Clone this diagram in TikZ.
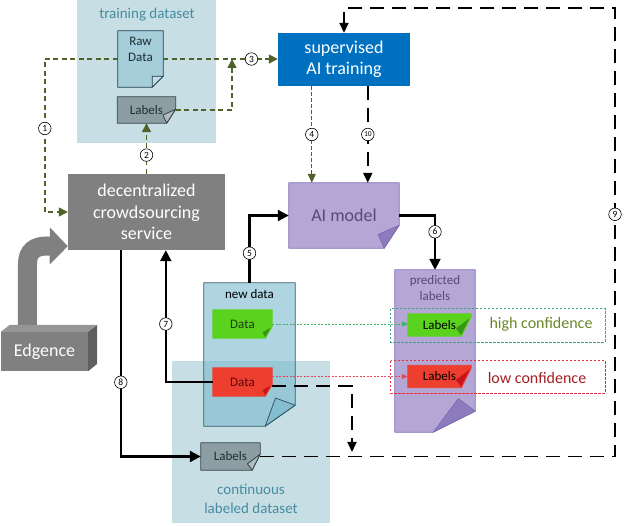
\documentclass[tikz,border=0pt]{standalone}
\usepackage{fontspec}
\setmainfont{Carlito}
\usetikzlibrary{positioning, arrows.meta, calc}
\newcommand{\fsz}[2]{\fontsize{#1}{#2}\selectfont}
\definecolor{panelblue}{RGB}{200,222,229}
\definecolor{panelteal}{RGB}{70,140,160}
\definecolor{rawblue}{RGB}{165,205,218}
\definecolor{rawedge}{RGB}{35,60,75}
\definecolor{labgray}{RGB}{140,158,164}
\definecolor{labedge}{RGB}{50,65,70}
\definecolor{labtext}{RGB}{30,45,50}
\definecolor{supblue}{RGB}{0,112,192}
\definecolor{srvgray}{RGB}{128,128,128}
\definecolor{lilac}{RGB}{180,167,214}
\definecolor{lilacedge}{RGB}{128,110,180}
\definecolor{lilactext}{RGB}{85,75,115}
\definecolor{newblue}{RGB}{120,185,205}
\definecolor{newedge}{RGB}{50,90,105}
\definecolor{okgreen}{RGB}{90,210,30}
\definecolor{okgreendk}{RGB}{55,150,20}
\definecolor{okgreentext}{RGB}{30,60,20}
\definecolor{badred}{RGB}{238,62,48}
\definecolor{badreddk}{RGB}{200,20,25}
\definecolor{badredtext}{RGB}{90,10,10}
\definecolor{flowgreen}{RGB}{79,98,40}
\definecolor{hiedge}{RGB}{60,165,125}
\definecolor{hitext}{RGB}{105,135,40}
\definecolor{loedge}{RGB}{220,50,70}
\definecolor{lotext}{RGB}{165,30,35}
\definecolor{dotgreen}{RGB}{60,180,100}
\definecolor{dotred}{RGB}{230,70,90}
\definecolor{edgetop}{RGB}{150,150,150}
\definecolor{edgeside}{RGB}{95,95,95}
\pgfdeclarelayer{back}
\pgfdeclarelayer{pages}
\pgfsetlayers{back,pages,main}
% page with folded corner: [extra]{node}{fold x}{fold y}{fill}{edge}{fold fill}
\newcommand{\docpage}[7][]{%
  \coordinate (#2-fa) at ([yshift=#4]#2.south east);
  \coordinate (#2-fb) at ([xshift=-#3]#2.south east);
  \coordinate (#2-fp) at ($(#2-fa)!(#2.south east)!(#2-fb)$);
  \coordinate (#2-fc) at ($(#2.south east)!2!(#2-fp)$);
  \filldraw[line width=0.8pt, line join=round, fill=#5, draw=#6, #1] (#2.north west) -- (#2.north east) -- (#2-fa) -- (#2-fb) -- (#2.south west) -- cycle;
  \filldraw[line width=0.8pt, line join=round, fill=#7, draw=#6, #1] (#2-fa) -- (#2-fb) -- (#2-fc) -- cycle;
}
\tikzset{
    panel/.style={fill=panelblue, draw=none, inner sep=0pt}, % light dataset areas
    panelhead/.style={text=panelteal, font=\fsz{15}{19}, align=center},
    page/.style={inner sep=0pt, font=\fsz{13}{16}, align=center},
    pagehead/.style={inner sep=1pt, font=\fsz{13}{16}, align=center},
    bigbox/.style={inner sep=0pt, text=white, font=\fsz{18}{21.5}, align=center},
    num/.style={circle, solid, draw=black, fill=white, text=black, line width=0.6pt, inner sep=0pt, minimum size=12.5pt, font=\fsz{9.5}{9.5}},
    greenflow/.style={draw=flowgreen, line width=1.4pt, dash pattern=on 5pt off 3.5pt, -{Triangle[length=9pt, width=9pt]}},
    greenthin/.style={draw=flowgreen, line width=1pt, dash pattern=on 3.5pt off 2.5pt, -{Triangle[length=9pt, width=8pt]}},
    blackflow/.style={draw=black, line width=2.2pt, -{Triangle[length=11pt, width=11pt]}},
    blackdash/.style={draw=black, line width=1.8pt, dash pattern=on 14pt off 8pt, -{Triangle[length=10pt, width=9pt]}},
    dotflow/.style={line width=0.8pt, dash pattern=on 2pt off 1.5pt, -{Triangle[length=6pt, width=5pt]}},
    confbox/.style={minimum width=214pt, inner sep=0pt},
    confline/.style={draw=#1, line width=0.8pt, dash pattern=on 2.5pt off 1.5pt},
    bigarrow/.style={draw=srvgray, line width=19pt, -{Triangle[length=18pt, width=36pt]}},
}
\begin{document}
\begin{tikzpicture}[x=1pt, y=-1pt]
    \useasboundingbox (0,0) rectangle (627,526);

    % dataset areas
    \begin{pgfonlayer}{back}
    \node[panel, minimum width=139pt, minimum height=143pt] (trainset) at (146.5,71.5) {};
    \node[panel, minimum width=158pt, minimum height=162pt] (contset) at (251,442) {};
    \end{pgfonlayer}
    \node[panelhead] (traintitle) at (147,15) {training dataset};
    \node[panelhead] (conttitle) at (251,498.5) {continuous\\labeled dataset};

    % boxes
    \node[page, minimum width=45pt, minimum height=56pt] (raw) at (140.5,59) {};
    \node[pagehead, text=labtext, below=5pt of raw.north] (rawtext) {Raw\\Data};
    \node[page, text=labtext, minimum width=58pt, minimum height=26pt] (labA) at (146.5,110) {Labels};
    \node[bigbox, fill=supblue, minimum width=132pt, minimum height=53pt] (sup) at (344,59.5) {supervised\\AI training};
    \node[bigbox, fill=srvgray, minimum width=157pt, minimum height=76pt] (srv) at (146.5,212) {decentralized\\crowdsourcing\\service};
    \node[bigbox, text=lilactext, minimum width=110pt, minimum height=65pt] (model) at (344,215.5) {AI model};
    \node[page, minimum width=91pt, minimum height=143pt] (nd) at (249.5,354.5) {};
    \node[pagehead, text=black, below=5pt of nd.north] (ndtitle) {new data};
    \node[page, text=okgreentext, minimum width=59pt, minimum height=28pt] (dgreen) at (242.5,324) {Data};
    \node[page, text=badredtext, minimum width=59pt, minimum height=28pt] (dred) at (242.5,382) {Data};
    \node[page, text=labtext, minimum width=59pt, minimum height=27pt] (labB) at (230.5,456.5) {Labels};
    \node[page, minimum width=80pt, minimum height=162pt] (pred) at (435,351) {};
    \node[pagehead, text=lilactext, below=4pt of pred.north] (predtitle) {predicted\\labels};
    \node[page, text=black, minimum width=63pt, minimum height=22pt] (lgreen) at (439.5,325) {Labels};
    \node[page, text=black, minimum width=63pt, minimum height=22pt] (lred) at (439.5,376.5) {Labels};

    \begin{pgfonlayer}{pages}
    \docpage{raw}{11pt}{11pt}{rawblue}{rawedge}{rawblue!70!white}
    \docpage{labA}{9pt}{14pt}{labgray}{labedge}{labgray!70!white}
    \docpage{model}{15pt}{23pt}{lilac}{lilacedge}{lilacedge!75!lilac}
    \docpage[fill opacity=0.6]{nd}{30pt}{21pt}{newblue}{newedge}{newblue}
    \docpage{dgreen}{7pt}{12pt}{okgreen}{okgreen}{okgreendk}
    \docpage{dred}{7pt}{12pt}{badred}{badred}{badreddk}
    \docpage{labB}{8pt}{16pt}{labgray}{labedge}{labgray!70!white}
    \docpage{pred}{42pt}{21pt}{lilac}{lilacedge}{lilacedge!75!lilac}
    \docpage{lgreen}{10pt}{20pt}{okgreen}{okgreen}{okgreendk}
    \docpage{lred}{10pt}{20pt}{badred}{badred}{badreddk}
    \end{pgfonlayer}

    % confidence groups
    \node[confbox, minimum height=33pt] (hibox) at (498,325.5) {};
    \node[confbox, minimum height=32pt] (lobox) at (498,377) {};
    \draw[confline=hiedge] (hibox.north west) rectangle (hibox.south east);
    \draw[confline=loedge] (lobox.north west) rectangle (lobox.south east);
    \node[font=\fsz{16}{19}, text=hitext] (hitxt) at (541,324) {high confidence};
    \node[font=\fsz{16}{19}, text=lotext] (lotxt) at (537,378) {low confidence};

    % Edgence
    \node[fill=srvgray, inner sep=0pt, minimum width=87pt, minimum height=39pt, text=white, font=\fsz{18}{20}] (edgence) at (44.5,351.5) {Edgence};
    \fill[edgetop] (edgence.north west) -- ++(9,-7) -- ++(87,0) -- (edgence.north east) -- cycle;
    \fill[edgeside] (edgence.north east) -- ++(9,-7) -- ++(0,39) -- (edgence.south east) -- cycle;
    \begin{pgfonlayer}{pages}
    \draw[bigarrow] ([xshift=26.5pt,yshift=2pt]edgence.north west) -- (27.5,264) .. controls (27.5,251) and (35,246) .. (47,246) -- ([yshift=4pt]srv.south west);
    \end{pgfonlayer}

    \coordinate (j3) at (232,59);
    \coordinate (m9) at (352,452);
    \coordinate (c9) at (615,8);

    % flows
    \draw[greenflow] (raw.west) -- ++(-73,0) |- node[num, pos=0.227] {1} (srv.west);
    \draw[greenflow] (srv.north) -- node[num, pos=0.37] {2} (labA.south);
    \draw[greenflow] (raw.east) -- node[num, pos=0.77] {3} (raw.east -| sup.west);
    \draw[greenflow] (labA.east) -| (j3);
    \draw[greenthin] ([xshift=34pt]sup.south west) -- node[num] {4} ([xshift=23pt]model.north west);
    \draw[blackdash] ([xshift=90pt]sup.south west) -- node[num, font=\fsz{7.5}{8}] {10} ([xshift=79pt]model.north west);
    \draw[blackflow] (nd.north) |- node[num, pos=0.22] {5} (model.west);
    \draw[blackflow] (model.east) -| node[num, pos=0.65] {6} (pred.north);
    \draw[blackflow] (dred.west) -| node[num, pos=0.72] {7} ([xshift=98pt]srv.south west);
    \draw[blackflow] ([xshift=53pt]srv.south west) |- node[num, pos=0.32] {8} (labB.west);
    \draw[blackdash] ([yshift=-4pt]dred.east) -| (m9);
    \draw[blackdash] (labB.east) -| node[num, pos=0.77] {9} (c9) -| (sup.north);
    \draw[dotflow, draw=dotgreen] (dgreen.east) -- (dgreen.east -| lgreen.west);
    \draw[dotflow, draw=dotred] (lred.west -| dred.east) -- (lred.west);
\end{tikzpicture}
\end{document}
